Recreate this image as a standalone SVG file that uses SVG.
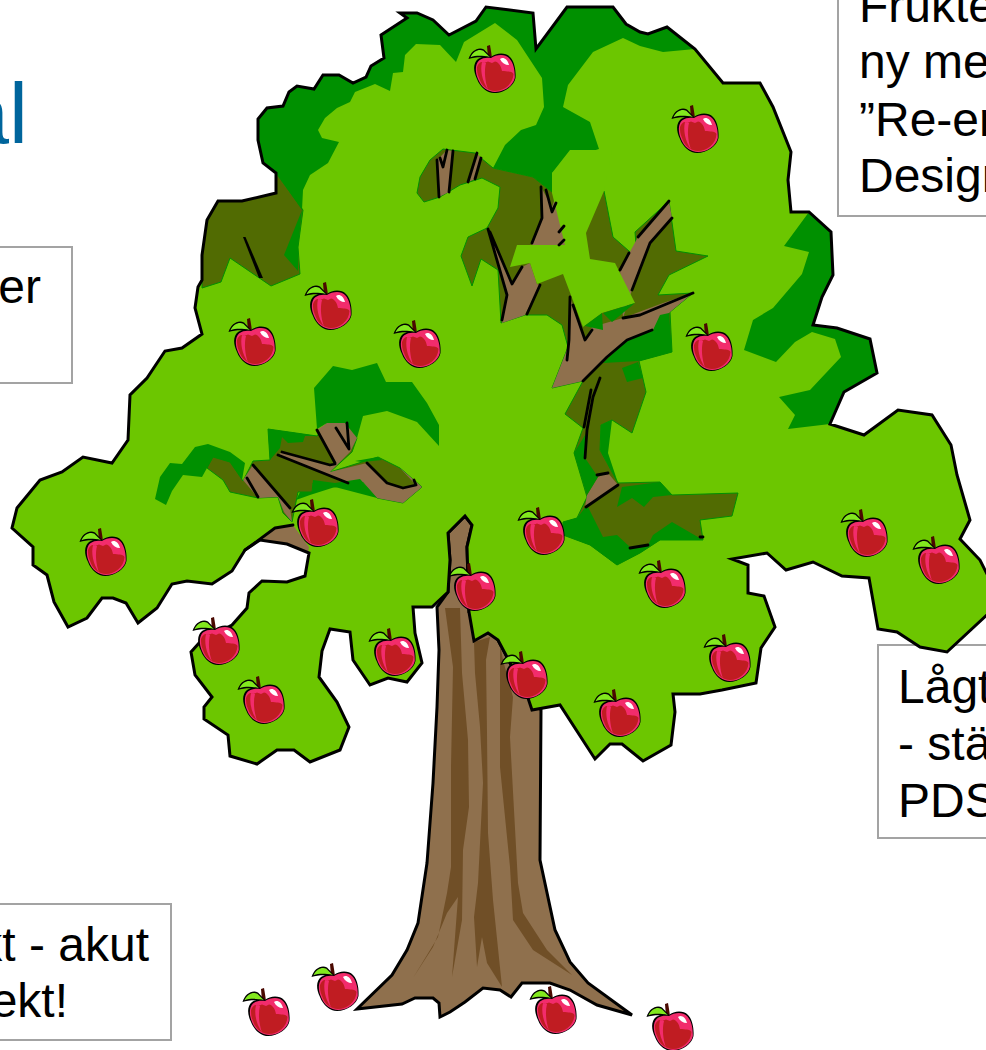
<svg xmlns="http://www.w3.org/2000/svg" xmlns:xlink="http://www.w3.org/1999/xlink" width="986" height="1050" viewBox="0 0 986 1050">
<style>
.box{fill:#fff;stroke:#a3a3a3;stroke-width:2}
.t{font-family:"Liberation Sans",Arial,sans-serif;font-size:48px;fill:#000}
.light{fill:#6cc600}
.dark{fill:#009000}
.olive{fill:#516b02;stroke:#009000;stroke-width:1}
.brown{fill:#8f704d}
.streak{fill:#704f27}
.ln{fill:none;stroke:#000;stroke-width:2.8;stroke-linejoin:round;stroke-linecap:round}
.out{fill:none;stroke:#000;stroke-width:3;stroke-linejoin:miter}
</style>
<defs>
<g id="apple">
<path d="M18 1 L21 0 L22 6 L23 13 L19 13 Z" fill="#4a0800"/>
<path d="M-0.500 14 C2 6 9 1.500 15 4.500 L23.500 13.500 C14 11.500 6 12 -0.500 14Z" fill="#000"/>
<path d="M1.500 12.300 C4.500 6 10 3.800 14.300 5.800 L21 12.300 C13 10.300 7 10.500 1.500 12.300Z" fill="#82e81e"/>
<path d="M22 12 C27 8 36 7 41 12 C46 17 47 27 46.500 33 C45 41 35 48 25 48 C18 48 11 42 8 34 C4 26 4 18 9 14 C13 11 18 11 22 12Z" fill="#000"/>
<path d="M22 13 C27 9.500 36 8.500 40 13 C45 18 46 27 45.800 33 C44 41 35 47 26 47 C19 47 12 42 9 34 C6 27 6 19 10 15.500 C14 12.500 18 12.500 22 13Z" fill="#f22c6c"/>
<path d="M8 22 C10 17 13 16 15 18 L19 16.500 L23 18 L26 16.500 C29 17 32 20 33 26 L35 26 C40 27 43 26 44.500 29 C44 39 35 46 26 46 C19 46 12.500 41 10 33 C8 29 8 25 8 22Z" fill="#c01c22"/>
<path d="M13 17 C11 25 13 36 19 44.500 C16 36 15 26 17 18Z" fill="#f22c6c"/>
<path d="M31 14 C34 11.500 38.500 14 40 20 C36 20 33 18 31 14Z" fill="#fff"/>
</g>
</defs>
<rect class="box" x="-10" y="247" width="82" height="136"/>
<text class="t" x="41" y="303" text-anchor="end">er</text>
<rect class="box" x="-10" y="904" width="181" height="136"/>
<text class="t" x="149" y="961" text-anchor="end">kt - akut</text>
<text class="t" x="68" y="1017" text-anchor="end">ekt!</text>
<rect class="box" x="838" y="-10" width="170" height="226"/>
<text class="t" x="859" y="22">Frukte</text>
<text class="t" x="859" y="78">ny me</text>
<text class="t" x="859" y="136">”Re-en</text>
<text class="t" x="859" y="192">Design</text>
<rect class="box" x="878" y="645" width="130" height="193"/>
<text class="t" x="898" y="703">Lågt</text>
<text class="t" x="898" y="760">- stä</text>
<text class="t" x="898" y="817">PDS</text>
<text x="28" y="143" text-anchor="end" font-family="'Liberation Sans',Arial,sans-serif" font-size="85" fill="#00659c">al</text>
<g id="trunk">
<path class="brown" stroke="#000" stroke-width="3" d="M448 533 L450 560 L448 592 L437 607 L439 650 L437 707 L433 783 L427 863 L418 923 L407 950 L392 975 L357 1009 L402 1004 L415 998 L433 998 L439 1003 L440 1017 L450 1012 L465 1002 L483 988 L500 990 L511 997 L522 983 L550 983 L570 990 L597 1005 L632 1015 L588 983 L570 962 L555 930 L540 860 L541 710 L527 695 L498 640 L480 620 L469 612 L467 547 L472 525 L465 516Z"/>
<path class="streak" d="M445 608 L453 667 L451 767 L451 867 L447 893 L438 937 L413 978 L433 947 L447 913 L458 897 L452 977 L462 920 L463 850 L469 807 L468 740 L462 673 L460 608Z"/>
<path class="streak" d="M474 642 L475 673 L480 727 L483 783 L478 883 L474 917 L477 967 L482 937 L487 963 L502 987 L493 900 L488 833 L487 733 L486 660 L490 637Z"/>
<path class="streak" d="M500 643 L500 717 L500 767 L510 867 L513 920 L533 950 L572 975 L547 950 L523 913 L518 883 L510 737 L513 697 L503 660Z"/>
</g>
<g id="canopy">
<path id="base" class="light" d="M400 13 L417 13 L433 20 L449 35 L476 21 L486 7 L533 13 L536 49 L567 7 L613 7 L626 24 L640 32 L648 34 L667 27 L695 49 L723 83 L760 83 L773 107 L791 152 L788 180 L791 212 L809 212 L831 232 L833 275 L822 297 L813 325 L837 328 L870 339 L877 373 L844 392 L830 424 L864 435 L898 410 L932 415 L951 445 L957 475 L970 520 L960 539 L980 560 L990 580 L990 612 L947 652 L920 647 L897 632 L878 629 L869 578 L842 576 L813 562 L786 570 L767 553 L732 559 L748 565 L748 593 L764 596 L775 627 L761 648 L756 683 L722 690 L700 694 L673 694 L675 712 L671 745 L643 761 L622 744 L610 744 L595 759 L560 705 L532 710 L527 695 L498 640 L488 633 L474 641 L469 612 L467 547 L472 525 L465 516 L448 533 L450 560 L448 592 L432 607 L413 607 L415 633 L422 663 L407 682 L388 678 L370 685 L353 660 L350 632 L330 629 L322 651 L319 677 L337 702 L349 727 L340 750 L310 762 L294 750 L277 750 L257 764 L230 756 L228 735 L204 719 L204 707 L212 697 L195 675 L191 652 L200 642 L232 625 L247 608 L249 593 L262 581 L287 582 L305 576 L309 553 L287 544 L260 540 L245 550 L232 571 L212 584 L187 581 L172 584 L157 608 L138 623 L126 603 L113 598 L102 598 L87 618 L68 627 L54 602 L47 575 L33 565 L33 547 L12 528 L17 508 L40 480 L62 472 L83 457 L112 463 L128 440 L130 395 L147 378 L165 351 L182 348 L202 334 L195 308 L198 287 L202 280 L202 255 L207 220 L218 201 L242 201 L276 193 L276 173 L263 163 L258 140 L258 119 L267 108 L283 106 L289 92 L297 86 L314 89 L323 75 L339 75 L353 83 L366 77 L371 66 L384 58 L381 35 L407 18 Z"/>
<path class="olive" d="M207 220 L218 201 L242 201 L276 193 L276 173 L303 210 L298 247 L300 274 L271 286 L230 258 L221 282 L202 288 L202 255Z"/>
<path class="dark" d="M302 210 L284 255 L298 271 L298 247Z"/>
<path class="dark" d="M276 173 L263 163 L258 140 L258 119 L267 108 L283 106 L289 92 L297 86 L314 89 L323 75 L339 75 L353 83 L366 77 L371 66 L384 58 L381 35 L407 18 L400 13 L417 13 L433 20 L449 35 L476 21 L486 7 L533 13 L536 49 L567 7 L613 7 L626 24 L640 32 L648 34 L667 27 L695 49 L663 52 L640 46 L623 38 L593 52 L568 85 L563 107 L590 122 L599 149 L573 157 L552 173 L552 192 L533 177 L493 168 L505 145 L521 130 L536 125 L544 107 L542 78 L517 40 L495 23 L464 42 L456 62 L440 45 L416 44 L405 55 L403 72 L393 73 L390 91 L375 84 L355 92 L350 102 L337 108 L325 118 L318 130 L322 138 L339 142 L328 163 L310 175 L303 190 L302 210Z"/>
<path class="dark" d="M809 212 L784 246 L809 252 L802 274 L773 308 L753 320 L744 350 L776 362 L795 342 L812 332 L835 339 L841 357 L810 390 L779 397 L795 415 L788 429 L830 424 L844 392 L877 373 L870 339 L837 328 L813 325 L822 297 L833 275 L831 232Z"/>
<path class="olive" d="M443 149 L475 153 L493 168 L533 177 L552 192 L604 191 L613 237 L637 258 L635 232 L669 201 L676 251 L708 256 L669 275 L658 295 L693 293 L670 312 L672 352 L639 361 L646 392 L632 433 L612 420 L601 425 L600 450 L618 483 L660 482 L672 495 L738 493 L732 516 L700 520 L703 540 L660 540 L640 553 L617 565 L590 545 L563 535 L563 522 L577 518 L587 497 L574 453 L583 428 L565 414 L583 381 L552 388 L568 347 L562 325 L547 315 L525 315 L501 323 L498 270 L481 259 L472 286 L461 256 L468 237 L487 228 L498 208 L500 187 L482 178 L460 185 L440 197 L424 202 L417 193 L420 177 L430 160Z"/>
<path class="brown" d="M437 160 L447 150 L453 151 L449 192 L439 197Z M477 153 L481 158 L475 179 L468 182Z"/>
<path class="brown" d="M488 229 L495 245 L512 284 L522 267 L530 263 L537 284 L540 285 L525 315 L502 323 L507 295Z"/>
<path class="brown" d="M532 243 L542 218 L541 187 L552 207 L556 195 L570 250 L532 250Z"/>
<path class="brown" d="M552 388 L568 347 L570 297 L585 340 L592 327 L623 318 L620 270 L638 237 L669 201 L672 218 L650 243 L632 290 L623 318 L663 303 L693 293 L670 312 L653 330 L627 340 L607 357 L583 381Z"/>
<path class="brown" d="M585 507 L587 495 L598 477 L608 473 L618 485Z M629 547 L648 545 L629 558Z"/>
<path class="dark" d="M603 363 L639 361 L672 352 L669 313 L660 315 L653 330 L627 340Z M622 368 L638 362 L643 378 L627 382Z"/>
<path class="dark" d="M587 432 L574 453 L587 495 L598 477 L585 458Z M612 420 L601 425 L600 450 L618 483 L608 453Z"/>
<path class="dark" d="M563 522 L577 518 L587 505 L603 537 L617 535 L630 547 L648 545 L653 535 L672 522 L703 540 L660 540 L640 553 L617 565 L590 545 L563 535Z M617 507 L622 487 L660 482 L672 495 L653 497 L644 507 L632 498Z"/>
<path class="light" d="M552 173 L552 193 L565 245 L517 245 L510 267 L530 263 L537 284 L563 274 L583 327 L602 313 L635 303 L615 263 L590 259 L586 233 L604 191 L612 150 L570 150Z"/>
<path class="dark" d="M583 327 L602 313 L603 330 L585 326Z M603 313 L635 303 L612 322Z"/>
<path class="dark" d="M314 388 L333 366 L352 370 L377 363 L386 382 L412 382 L427 403 L439 425 L439 446 L417 422 L387 411 L363 416 L357 438 L345 423 L328 433 L327 423 L317 429Z"/>
<path class="dark" d="M155 499 L160 477 L170 463 L182 464 L195 447 L208 444 L230 452 L245 463 L242 480 L233 468 L207 468 L202 477 L183 475 L172 491 L166 505Z"/>
<path class="olive" stroke="none" d="M207 468 L213 457 L230 462 L243 481 L253 461 L270 460 L268 429 L317 436 L327 423 L345 423 L357 438 L352 452 L330 472 L378 457 L400 468 L422 487 L403 503 L377 498 L363 482 L335 487 L313 483 L312 492 L298 492 L292 522 L283 513 L278 497 L258 498 L230 492 L223 480Z"/>
<path class="brown" d="M317 430 L327 423 L345 423 L357 438 L350 452 L330 472 L335 463Z"/>
<path class="brown" d="M278 455 L282 452 L330 465 L336 464 L330 472 L367 463 L387 483 L403 488 L416 485 L400 468 L422 487 L403 503 L377 498 L363 482 L348 483Z"/>
<path class="brown" d="M243 480 L253 465 L290 508 L292 522 L284 512 L278 497 L258 498Z"/>
<path class="brown" d="M260 540 L275 528 L293 525 L309 547 L308 553 L287 544Z"/>
<path class="dark" d="M268 429 L317 436 L305 436 L303 442 L288 443 L282 437 L280 448 L270 460Z"/>
<path class="dark" d="M296 500 L300 492 L312 492 L313 480 L335 483 L360 479 L377 498 L335 487 L310 495Z"/>
<path class="dark" d="M355 461 L378 457 L382 460 L362 462Z"/>
<g id="branch-lines">
<path d="M243 237 L245.500 237 L263 278 L259 278Z"/>
<path class="ln" d="M437 160 L439 197 M440 158 L443 167 L447 150 M453 151 L449 192 M477 153 L468 182 M481 158 L475 179"/>
<path class="ln" d="M488 229 L507 295 L502 320 M490 232 L512 284 L522 267 M527 314 L540 285 M532 243 L542 218 L541 187 M546 190 L552 212 L556 203 M559 232 L564 226 M559 245 L564 240"/>
<path class="ln" d="M570 297 L569 340 L567 360 M573 305 L585 340 L592 330 M583 381 L607 357 L627 340 L652 330 M623 318 L640 315 L693 293 M620 270 L629 253 M632 290 L650 243 L672 218 M600 378 L593 397 L587 430 L585 458 M591 390 L584 427 M597 475 L608 473 M586 507 L618 485 M630 548 L648 545 M700 537 L703 537"/>
<path class="ln" stroke-width="1.500" d="M638 237 L669 201"/>
<path class="ln" d="M247 478 L258 497 M253 465 L290 508 M278 455 L348 483 M282 452 L330 465 L335 464 M317 430 L335 463 M336 428 L349 449 L347 423 M367 463 L387 483 L403 488 L416 485 L414 480 M245 550 L275 528 L293 525"/>
</g>
<path class="out" d="M400 13 L417 13 L433 20 L449 35 L476 21 L486 7 L533 13 L536 49 L567 7 L613 7 L626 24 L640 32 L648 34 L667 27 L695 49 L723 83 L760 83 L773 107 L791 152 L788 180 L791 212 L809 212 L831 232 L833 275 L822 297 L813 325 L837 328 L870 339 L877 373 L844 392 L830 424 L864 435 L898 410 L932 415 L951 445 L957 475 L970 520 L960 539 L980 560 L990 580 L990 612 L947 652 L920 647 L897 632 L878 629 L869 578 L842 576 L813 562 L786 570 L767 553 L732 559 L748 565 L748 593 L764 596 L775 627 L761 648 L756 683 L722 690 L700 694 L673 694 L675 712 L671 745 L643 761 L622 744 L610 744 L595 759 L560 705 L532 710 L527 695 L498 640 L488 633 L474 641 L469 612 L467 547 L472 525 L465 516 L448 533 L450 560 L448 592 L432 607 L413 607 L415 633 L422 663 L407 682 L388 678 L370 685 L353 660 L350 632 L330 629 L322 651 L319 677 L337 702 L349 727 L340 750 L310 762 L294 750 L277 750 L257 764 L230 756 L228 735 L204 719 L204 707 L212 697 L195 675 L191 652 L200 642 L232 625 L247 608 L249 593 L262 581 L287 582 L305 576 L309 553 L287 544 L260 540 L245 550 L232 571 L212 584 L187 581 L172 584 L157 608 L138 623 L126 603 L113 598 L102 598 L87 618 L68 627 L54 602 L47 575 L33 565 L33 547 L12 528 L17 508 L40 480 L62 472 L83 457 L112 463 L128 440 L130 395 L147 378 L165 351 L182 348 L202 334 L195 308 L198 287 L202 280 L202 255 L207 220 L218 201 L242 201 L276 193 L276 173 L263 163 L258 140 L258 119 L267 108 L283 106 L289 92 L297 86 L314 89 L323 75 L339 75 L353 83 L366 77 L371 66 L384 58 L381 35 L407 18 Z"/>
</g>
<g id="apples">
<use xlink:href="#apple" href="#apple" x="469" y="45"/>
<use xlink:href="#apple" href="#apple" x="672" y="105"/>
<use xlink:href="#apple" href="#apple" x="305" y="282"/>
<use xlink:href="#apple" href="#apple" x="229" y="318"/>
<use xlink:href="#apple" href="#apple" x="394" y="320"/>
<use xlink:href="#apple" href="#apple" x="686" y="323"/>
<use xlink:href="#apple" href="#apple" x="292" y="499"/>
<use xlink:href="#apple" href="#apple" x="518" y="507"/>
<use xlink:href="#apple" href="#apple" x="841" y="509"/>
<use xlink:href="#apple" href="#apple" x="913" y="536"/>
<use xlink:href="#apple" href="#apple" x="80" y="528"/>
<use xlink:href="#apple" href="#apple" x="639" y="560"/>
<use xlink:href="#apple" href="#apple" x="449" y="563"/>
<use xlink:href="#apple" href="#apple" x="193" y="617"/>
<use xlink:href="#apple" href="#apple" x="369" y="628"/>
<use xlink:href="#apple" href="#apple" x="704" y="634"/>
<use xlink:href="#apple" href="#apple" x="501" y="651"/>
<use xlink:href="#apple" href="#apple" x="238" y="676"/>
<use xlink:href="#apple" href="#apple" x="594" y="689"/>
<use xlink:href="#apple" href="#apple" x="312" y="963"/>
<use xlink:href="#apple" href="#apple" x="243" y="988"/>
<use xlink:href="#apple" href="#apple" x="530" y="986"/>
<use xlink:href="#apple" href="#apple" x="647" y="1003"/>
</g>
</svg>
